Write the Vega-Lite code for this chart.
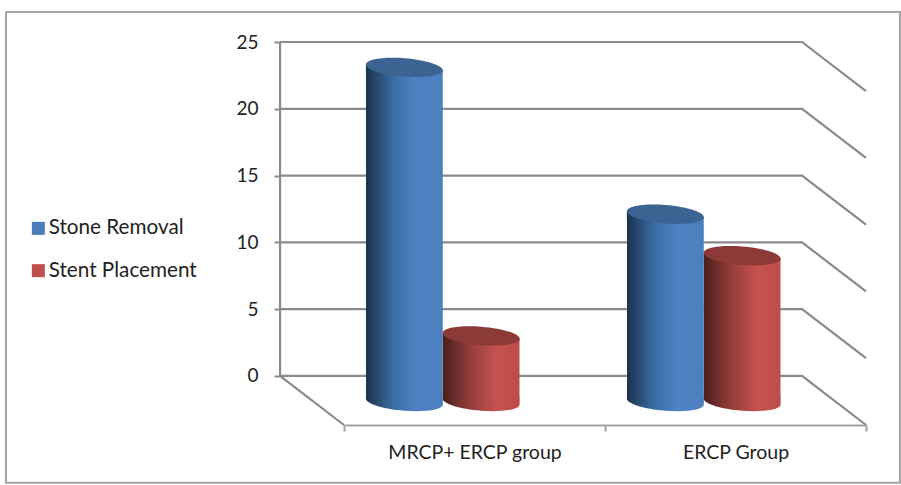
{
  "$schema": "https://vega.github.io/schema/vega-lite/v6.json",
  "width": 522,
  "height": 383,
  "padding": {"left": 344, "top": 42, "right": 35, "bottom": 60},
  "autosize": "none",
  "background": "white",
  "config": {"view": {"stroke": null}, "font": "Lato"},
  "datasets": {
    "bars": [
      {"group": "MRCP+ ERCP group", "series": "Stone Removal", "value": 23.1},
      {"group": "MRCP+ ERCP group", "series": "Stent Placement", "value": 3},
      {"group": "ERCP Group", "series": "Stone Removal", "value": 12.1},
      {"group": "ERCP Group", "series": "Stent Placement", "value": 9}
    ],
    "grid": [
      {"level": 5, "step": 1, "pos": -0.245, "y": 5}, {"level": 5, "step": 2, "pos": 1.755, "y": 5}, {"level": 5, "step": 3, "pos": 2, "y": 1.33},
      {"level": 10, "step": 1, "pos": -0.245, "y": 10}, {"level": 10, "step": 2, "pos": 1.755, "y": 10}, {"level": 10, "step": 3, "pos": 2, "y": 6.33},
      {"level": 15, "step": 1, "pos": -0.245, "y": 15}, {"level": 15, "step": 2, "pos": 1.755, "y": 15}, {"level": 15, "step": 3, "pos": 2, "y": 11.33},
      {"level": 20, "step": 1, "pos": -0.245, "y": 20}, {"level": 20, "step": 2, "pos": 1.755, "y": 20}, {"level": 20, "step": 3, "pos": 2, "y": 16.33},
      {"level": 25, "step": 1, "pos": -0.245, "y": 25}, {"level": 25, "step": 2, "pos": 1.755, "y": 25}, {"level": 25, "step": 3, "pos": 2, "y": 21.33},
      {"level": 0, "step": 1, "pos": -0.245, "y": 25}, {"level": 0, "step": 2, "pos": -0.245, "y": 0}, {"level": 0, "step": 3, "pos": 0, "y": -3.67},
      {"level": -1, "step": 1, "pos": -0.245, "y": 0}, {"level": -1, "step": 2, "pos": 1.755, "y": 0}, {"level": -1, "step": 3, "pos": 2, "y": -3.67}
    ],
    "frame": [
      {"step": 1, "pos": -1.295, "y": 27.25},
      {"step": 2, "pos": 2.13, "y": 27.25},
      {"step": 3, "pos": 2.13, "y": -8},
      {"step": 4, "pos": -1.295, "y": -8},
      {"step": 5, "pos": -1.295, "y": 27.25}
    ]
  },
  "layer": [
    {
      "data": {"name": "frame"},
      "mark": {"type": "line", "color": "#a3a3a3", "strokeWidth": 2},
      "encoding": {
        "x": {"field": "pos", "type": "quantitative", "axis": null, "scale": {"domain": [0, 2], "nice": false, "zero": false}},
        "y": {
          "field": "y", "type": "quantitative",
          "scale": {"domain": [-3.67, 25], "nice": false, "zero": false},
          "axis": {
            "title": null, "offset": 64, "values": [0, 5, 10, 15, 20, 25], "domain": false, "grid": false,
            "tickSize": 6, "tickWidth": 2, "tickColor": "#8c8c8c", "labelPadding": 16,
            "labelFont": "Lato", "labelFontSize": 19, "labelColor": "#222222"
          }
        },
        "order": {"field": "step", "type": "quantitative"}
      }
    },
    {
      "data": {"name": "grid"},
      "mark": {"type": "line", "color": "#8a8a8a", "strokeWidth": 2.2},
      "encoding": {
        "x": {"field": "pos", "type": "quantitative", "axis": null, "scale": {"domain": [0, 2], "nice": false, "zero": false}},
        "y": {"field": "y", "type": "quantitative"},
        "detail": {"field": "level", "type": "nominal"},
        "order": {"field": "step", "type": "quantitative"}
      }
    },
    {
      "data": {"name": "bars"},
      "encoding": {
        "x": {
          "field": "group", "type": "nominal",
          "scale": {"domain": ["MRCP+ ERCP group", "ERCP Group"], "paddingInner": 0, "paddingOuter": 0},
          "axis": {
            "title": null, "labelAngle": 0, "tickBand": "extent", "tickSize": 6, "tickWidth": 2, "tickColor": "#a3a3a3",
            "domainColor": "#a3a3a3", "domainWidth": 2.2, "labelPadding": 12,
            "labelFont": "Lato", "labelFontSize": 19.5, "labelColor": "#222222"
          }
        },
        "xOffset": {
          "field": "series", "type": "nominal",
          "scale": {"domain": ["Stone Removal", "Stent Placement"], "range": [22, 175.5], "paddingInner": 0, "paddingOuter": 0}
        }
      },
      "layer": [
        {
          "mark": {"type": "point", "filled": true, "size": 0, "opacity": 1},
          "encoding": {
            "y": {"field": "value", "type": "quantitative"},
            "color": {
              "field": "series", "type": "nominal",
              "scale": {"domain": ["Stone Removal", "Stent Placement"], "range": ["#4a7ebb", "#c0504d"]},
              "legend": {
                "title": null, "orient": "none", "legendX": -316, "legendY": 176,
                "symbolType": "square", "symbolSize": 169, "symbolStrokeWidth": 0,
                "labelFont": "Lato", "labelFontSize": 20.7, "labelColor": "#222222", "labelOffset": 0, "rowPadding": 20.3
              }
            }
          }
        },
        {
          "transform": [{"filter": "datum.series === 'Stent Placement'"}],
          "layer": [
            {
              "mark": {"type": "bar", "yOffset": 3, "fill": {"gradient": "linear", "x1": 0, "y1": 0, "x2": 1, "y2": 0, "stops": [
                {"offset": 0, "color": "#4a1f1d"}, {"offset": 0.35, "color": "#923c3a"}, {"offset": 0.7, "color": "#c65350"}, {"offset": 1, "color": "#bd4d4a"}]}},
              "encoding": {"y": {"field": "value", "type": "quantitative"}, "y2": {"datum": -1.65}}
            },
            {
              "mark": {"type": "point", "filled": true, "opacity": 1, "size": 5929, "shape": "M-1,-0.077L1,0.077L1,0.12L-1,0.12Z", "fill": {"gradient": "linear", "x1": 0, "y1": 0, "x2": 1, "y2": 0, "stops": [
                {"offset": 0, "color": "#4a1f1d"}, {"offset": 0.35, "color": "#923c3a"}, {"offset": 0.7, "color": "#c65350"}, {"offset": 1, "color": "#bd4d4a"}]}},
              "encoding": {"y": {"field": "value", "type": "quantitative"}}
            },
            {
              "mark": {"type": "point", "filled": true, "opacity": 1, "size": 5929, "shape": "M-1,-0.12L1,-0.12L1,0.077C1,0.2095,0.5523,0.2825,0,0.24C-0.5523,0.1975,-1,0.0555,-1,-0.077Z", "fill": {"gradient": "linear", "x1": 0, "y1": 0, "x2": 1, "y2": 0, "stops": [
                {"offset": 0, "color": "#4a1f1d"}, {"offset": 0.35, "color": "#923c3a"}, {"offset": 0.7, "color": "#c65350"}, {"offset": 1, "color": "#bd4d4a"}]}},
              "encoding": {"y": {"datum": -1.91}}
            },
            {
              "mark": {"type": "point", "filled": true, "opacity": 1, "size": 5929, "fill": "#8c3a38", "shape": "M-1,-0.077C-1,-0.2095,-0.5523,-0.2825,0,-0.24C0.5523,-0.1975,1,-0.0555,1,0.077C1,0.2095,0.5523,0.2825,0,0.24C-0.5523,0.1975,-1,0.0555,-1,-0.077Z"},
              "encoding": {"y": {"field": "value", "type": "quantitative"}}
            }
          ]
        },
        {
          "transform": [{"filter": "datum.series === 'Stone Removal'"}],
          "layer": [
            {
              "mark": {"type": "bar", "yOffset": 3, "fill": {"gradient": "linear", "x1": 0, "y1": 0, "x2": 1, "y2": 0, "stops": [
                {"offset": 0, "color": "#1c324c"}, {"offset": 0.35, "color": "#386ca3"}, {"offset": 0.65, "color": "#4d82c4"}, {"offset": 1, "color": "#4c7fbe"}]}},
              "encoding": {"y": {"field": "value", "type": "quantitative"}, "y2": {"datum": -1.65}}
            },
            {
              "mark": {"type": "point", "filled": true, "opacity": 1, "size": 5929, "shape": "M-1,-0.077L1,0.077L1,0.12L-1,0.12Z", "fill": {"gradient": "linear", "x1": 0, "y1": 0, "x2": 1, "y2": 0, "stops": [
                {"offset": 0, "color": "#1c324c"}, {"offset": 0.35, "color": "#386ca3"}, {"offset": 0.65, "color": "#4d82c4"}, {"offset": 1, "color": "#4c7fbe"}]}},
              "encoding": {"y": {"field": "value", "type": "quantitative"}}
            },
            {
              "mark": {"type": "point", "filled": true, "opacity": 1, "size": 5929, "shape": "M-1,-0.12L1,-0.12L1,0.077C1,0.2095,0.5523,0.2825,0,0.24C-0.5523,0.1975,-1,0.0555,-1,-0.077Z", "fill": {"gradient": "linear", "x1": 0, "y1": 0, "x2": 1, "y2": 0, "stops": [
                {"offset": 0, "color": "#1c324c"}, {"offset": 0.35, "color": "#386ca3"}, {"offset": 0.65, "color": "#4d82c4"}, {"offset": 1, "color": "#4c7fbe"}]}},
              "encoding": {"y": {"datum": -1.91}}
            },
            {
              "mark": {"type": "point", "filled": true, "opacity": 1, "size": 5929, "fill": "#3b6493", "shape": "M-1,-0.077C-1,-0.2095,-0.5523,-0.2825,0,-0.24C0.5523,-0.1975,1,-0.0555,1,0.077C1,0.2095,0.5523,0.2825,0,0.24C-0.5523,0.1975,-1,0.0555,-1,-0.077Z"},
              "encoding": {"y": {"field": "value", "type": "quantitative"}}
            }
          ]
        }
      ]
    }
  ],
  "resolve": {"scale": {"x": "independent"}}
}
